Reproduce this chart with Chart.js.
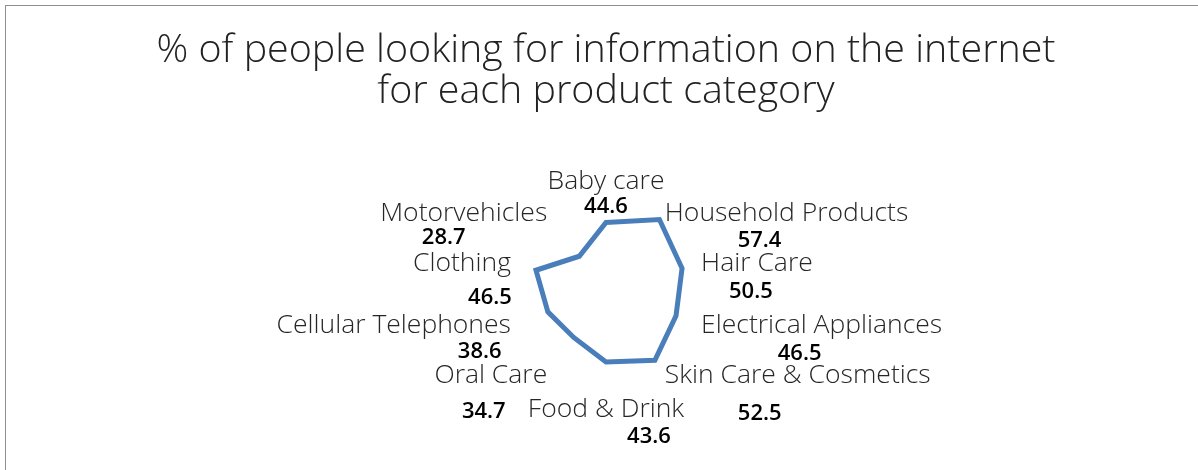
<!DOCTYPE html>
<html>
<head>
<meta charset="utf-8">
<script src="https://cdn.jsdelivr.net/npm/chart.js@4/dist/chart.umd.min.js"></script>
<style>
  html, body { margin: 0; padding: 0; background: #fff; }
  #wrap { width: 1198px; height: 470px; }
</style>
</head>
<body>
<div id="wrap"><canvas id="radarChart" width="1198" height="470"></canvas></div>
<script>
// categories, clockwise from the top
const categorias = [
    "Baby care", "Household Products", "Hair Care", "Electrical Appliances",
    "Skin Care & Cosmetics", "Food & Drink", "Oral Care", "Cellular Telephones",
    "Clothing", "Motorvehicles"
];
const valores = [44.6, 57.4, 50.5, 46.5, 52.5, 43.6, 34.7, 38.6, 46.5, 28.7];
const tituloLinhas = [
    "% of people looking for information on the internet",
    "for each product category"
];

// where Excel left each value label, relative to its category label (dx from centre, dy from baseline)
const ajusteValorX = [0, -27, -6, -22, -38, 43, -7, 86, 28, -20];
const ajusteValorY = [24, 26, 27, 27, 37, 26, 35, 25, 33, 23];

const fonteLeve = "'Open Sans', 'Segoe UI', sans-serif";

const moldura = {
    id: "moldura",
    beforeDraw(chart) {
        const ctx = chart.ctx;
        ctx.save();
        ctx.strokeStyle = "#8e8e8e";
        ctx.lineWidth = 1;
        ctx.strokeRect(5.5, 5.5, 1300, 600);
        ctx.restore();
    }
};

// title drawn by hand so the long first line is not squeezed into the chart area width
const titulo = {
    id: "titulo",
    afterDraw(chart) {
        const ctx = chart.ctx;
        const cx = chart.scales.r.xCenter;
        ctx.save();
        ctx.font = `300 39.4px ${fonteLeve}`;
        ctx.fillStyle = "#222";
        ctx.textAlign = "center";
        ctx.textBaseline = "alphabetic";
        tituloLinhas.forEach((linha, i) => {
            ctx.fillText(linha, cx, 62 + i * 41);
        });
        ctx.restore();
    }
};

const rotulos = {
    id: "rotulos",
    afterDatasetsDraw(chart) {
        const scale = chart.scales.r;
        const ctx = chart.ctx;
        const n = categorias.length;
        ctx.save();
        for (let i = 0; i < n; i++) {
            const pos = scale.getPointPosition(i, scale.drawingArea + 5);
            ctx.font = `300 26.5px ${fonteLeve}`;
            ctx.fillStyle = "#262626";
            ctx.textBaseline = "alphabetic";
            const capH = ctx.measureText("H").actualBoundingBoxAscent;
            const w = ctx.measureText(categorias[i]).width;
            let x = pos.x, y;
            if (i === 0) {
                ctx.textAlign = "center";
                y = pos.y - 4;
            } else if (i === n / 2) {
                ctx.textAlign = "center";
                y = pos.y + capH + 6;
            } else if (i < n / 2) {
                ctx.textAlign = "left";
                y = pos.y + capH / 2;
            } else {
                ctx.textAlign = "right";
                y = pos.y + capH / 2;
            }
            ctx.fillText(categorias[i], x, y);

            let centro = x;
            if (ctx.textAlign === "left") centro = x + w / 2;
            if (ctx.textAlign === "right") centro = x - w / 2;

            ctx.font = `600 22px 'Open Sans', sans-serif`;
            ctx.fillStyle = "#000";
            ctx.textAlign = "center";
            ctx.fillText(String(valores[i]), centro + ajusteValorX[i], y + ajusteValorY[i]);
        }
        ctx.restore();
    }
};

const radarChart = new Chart(document.getElementById("radarChart"), {
    type: "radar",
    data: {
        labels: categorias,
        datasets: [{
            label: "%",
            data: valores,
            borderColor: "#4a7ebb",
            borderWidth: 5,
            fill: false,
            pointRadius: 0,
            pointHoverRadius: 0,
            tension: 0
        }]
    },
    options: {
        responsive: false,
        animation: false,
        devicePixelRatio: 1,
        layout: {
            padding: { left: 306, right: 292, top: 198, bottom: 82 }
        },
        plugins: {
            legend: { display: false },
            tooltip: { enabled: false },
            title: { display: false }
        },
        scales: {
            r: {
                min: 0,
                max: 60,
                ticks: { display: false },
                grid: { display: false },
                angleLines: { display: false },
                pointLabels: { display: false }
            }
        }
    },
    plugins: [moldura, titulo, rotulos]
});
</script>
</body>
</html>
